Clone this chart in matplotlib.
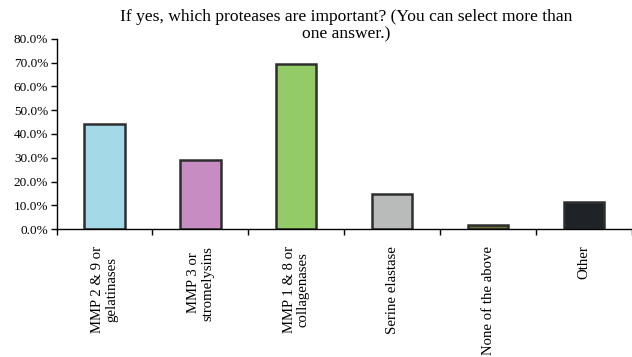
import matplotlib
matplotlib.use("Agg")
import matplotlib.pyplot as plt
from matplotlib.ticker import FuncFormatter, FixedLocator

categories = ["MMP 2 & 9 or\ngelatinases", "MMP 3 or\nstromelysins", "MMP 1 & 8 or\ncollagenases",
              "Serine elastase", "None of the above", "Other"]
values = [44.0, 29.0, 69.5, 14.8, 1.6, 11.2]
colors = ["#A4DAE8", "#C78DC3", "#93CB66", "#B9BBBB", "#6E6E3A", "#1F2328"]
title = "If yes, which proteases are important? (You can select more than\none answer.)"

plt.rcParams['font.family'] = ['Liberation Serif', 'DejaVu Serif']

fig = plt.figure(figsize=(6.32, 3.57), dpi=100)
ax = fig.add_axes([0.0894, 0.3585, 0.9106, 0.5323])

x = list(range(len(categories)))
ax.bar(x, values, width=0.42, color=colors, edgecolor="#2e2e2e", linewidth=1.8, zorder=2)

ax.set_xlim(-0.5, len(categories) - 0.5)
ax.set_ylim(0, 80)
ax.yaxis.set_major_locator(FixedLocator([0, 10, 20, 30, 40, 50, 60, 70, 80]))
ax.yaxis.set_major_formatter(FuncFormatter(lambda v, p: f"{v:.1f}%"))
ax.xaxis.set_major_locator(FixedLocator([i - 0.5 for i in range(len(categories) + 1)]))
ax.set_xticklabels([])
for i, c in enumerate(categories):
    ax.text(i, -7.0, c, rotation=90, ha='center', va='top', multialignment='center',
            fontsize=10.6, linespacing=1.1, transform=ax.transData, clip_on=False)

ax.tick_params(axis='y', labelsize=9.5, length=4, width=1, direction='out', pad=2)
ax.tick_params(axis='x', length=4, width=1, direction='out')
for s in ['top', 'right']:
    ax.spines[s].set_visible(False)
ax.spines['left'].set_linewidth(1)
ax.spines['bottom'].set_linewidth(1)

fig.text(0.547, 0.975, title, ha='center', va='top', fontsize=12.6, linespacing=1.1)

fig.savefig("out.png", dpi=100)
